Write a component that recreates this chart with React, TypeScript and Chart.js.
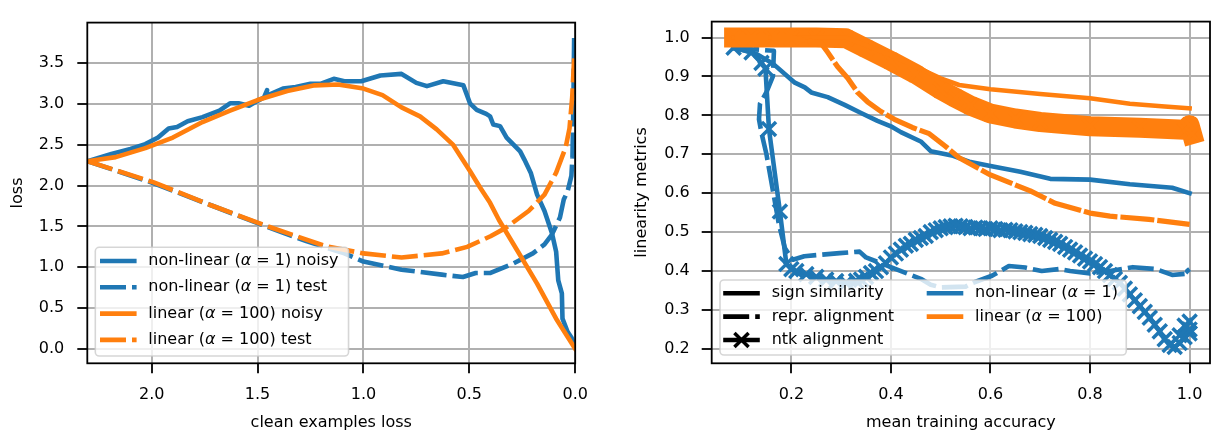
import React, { useEffect, useRef } from 'react';
import { Chart, registerables } from 'chart.js';

Chart.register(...registerables);

const BLUE = '#1f77b4';
const ORANGE = '#ff7f0e';
const FONT = '"DejaVu Sans", sans-serif';
const LW = 4.6;

// ---------------- Left panel data ----------------
const LEFT_X_TICKS = [0, 0.5, 1.0, 1.5, 2.0];
const LEFT_Y_TICKS = [0, 0.5, 1.0, 1.5, 2.0, 2.5, 3.0, 3.5];
const LEFT_X_TITLE = 'clean examples loss';
const LEFT_Y_TITLE = 'loss';
const LEFT_LEGEND = [
  'non-linear (α = 1) noisy',
  'non-linear (α = 1) test',
  'linear (α = 100) noisy',
  'linear (α = 100) test',
];

const nlNoisyX = [2.303, 2.19, 2.10, 2.03, 1.97, 1.92, 1.88, 1.83, 1.76, 1.68, 1.63, 1.59, 1.54, 1.50, 1.47, 1.455, 1.462, 1.45, 1.38, 1.32, 1.25, 1.20, 1.14, 1.09, 1.01, 0.92, 0.82, 0.75, 0.70, 0.623, 0.528, 0.497, 0.465, 0.42, 0.402, 0.387, 0.355, 0.324, 0.26, 0.24, 0.21, 0.18, 0.145, 0.11, 0.09, 0.08, 0.063, 0.06, 0.036, 0.018, 0.0];
const nlNoisyY = [2.30, 2.39, 2.45, 2.51, 2.59, 2.70, 2.72, 2.79, 2.84, 2.92, 3.01, 3.01, 2.98, 3.04, 3.08, 3.17, 3.09, 3.11, 3.19, 3.21, 3.25, 3.25, 3.31, 3.28, 3.28, 3.35, 3.37, 3.26, 3.22, 3.28, 3.23, 3.01, 2.93, 2.88, 2.85, 2.75, 2.73, 2.59, 2.42, 2.32, 2.16, 1.89, 1.69, 1.42, 1.19, 0.84, 0.68, 0.37, 0.21, 0.14, 0.02];

const nlTestX = [2.303, 1.99, 1.72, 1.50, 1.27, 1.09, 1.0, 0.82, 0.63, 0.53, 0.47, 0.40, 0.29, 0.20, 0.145, 0.11, 0.072, 0.054, 0.036, 0.018, 0.013, 0.009, 0.005];
const nlTestY = [2.30, 2.03, 1.76, 1.54, 1.32, 1.17, 1.07, 0.97, 0.91, 0.88, 0.93, 0.93, 1.05, 1.17, 1.28, 1.40, 1.61, 1.83, 1.93, 2.12, 2.35, 2.90, 3.81];

const linNoisyX = [2.303, 2.17, 2.03, 1.90, 1.76, 1.63, 1.50, 1.36, 1.23, 1.12, 1.0, 0.91, 0.82, 0.733, 0.654, 0.576, 0.497, 0.45, 0.402, 0.36, 0.27, 0.18, 0.09, 0.0];
const linNoisyY = [2.30, 2.35, 2.46, 2.59, 2.78, 2.92, 3.05, 3.16, 3.23, 3.24, 3.19, 3.11, 2.96, 2.85, 2.69, 2.50, 2.18, 1.98, 1.79, 1.58, 1.19, 0.80, 0.37, 0.0];

const linTestX = [2.303, 1.99, 1.72, 1.45, 1.18, 1.0, 0.82, 0.63, 0.51, 0.40, 0.33, 0.22, 0.145, 0.09, 0.045, 0.027, 0.014, 0.005];
const linTestY = [2.30, 2.04, 1.76, 1.50, 1.26, 1.17, 1.12, 1.17, 1.25, 1.38, 1.48, 1.69, 1.89, 2.16, 2.47, 2.70, 3.09, 3.56];

// ---------------- Right panel data ----------------
const RIGHT_X_TICKS = [0.2, 0.4, 0.6, 0.8, 1.0];
const RIGHT_Y_TICKS = [0.2, 0.3, 0.4, 0.5, 0.6, 0.7, 0.8, 0.9, 1.0];
const RIGHT_X_TITLE = 'mean training accuracy';
const RIGHT_Y_TITLE = 'linearity metrics';
const RIGHT_METRIC_LABELS = ['sign similarity', 'repr. alignment', 'ntk alignment'];
const RIGHT_MODEL_LABELS = ['non-linear (α = 1)', 'linear (α = 100)'];

const nlSignX = [0.084, 0.13, 0.163, 0.207, 0.227, 0.24, 0.273, 0.307, 0.34, 0.373, 0.40, 0.42, 0.46, 0.48, 0.525, 0.56, 0.60, 0.66, 0.72, 0.80, 0.88, 0.965, 1.0];
const nlSignY = [0.974, 0.958, 0.933, 0.884, 0.872, 0.859, 0.847, 0.827, 0.806, 0.786, 0.772, 0.757, 0.733, 0.708, 0.696, 0.68, 0.67, 0.655, 0.637, 0.635, 0.623, 0.614, 0.60];

const nlReprX = [0.083, 0.12, 0.165, 0.163, 0.15, 0.137, 0.135, 0.14, 0.15, 0.163, 0.175, 0.187, 0.203, 0.226, 0.25, 0.297, 0.337, 0.35, 0.38, 0.41, 0.44, 0.46, 0.48, 0.50, 0.55, 0.565, 0.603, 0.637, 0.67, 0.703, 0.737, 0.76, 0.80, 0.84, 0.886, 0.933, 0.965, 1.0, 0.995, 1.0];
const nlReprY = [0.972, 0.970, 0.966, 0.90, 0.86, 0.83, 0.79, 0.755, 0.70, 0.606, 0.52, 0.459, 0.429, 0.438, 0.441, 0.446, 0.45, 0.435, 0.42, 0.405, 0.39, 0.38, 0.365, 0.358, 0.36, 0.37, 0.388, 0.413, 0.409, 0.40, 0.405, 0.40, 0.394, 0.40, 0.41, 0.405, 0.39, 0.394, 0.40, 0.405];

const nlNtkX = [0.084, 0.12, 0.14, 0.148, 0.155, 0.177, 0.19, 0.20, 0.21, 0.23, 0.25, 0.27, 0.29, 0.31, 0.33, 0.34, 0.35, 0.36, 0.37, 0.38, 0.39, 0.40, 0.41, 0.42, 0.43, 0.44, 0.45, 0.46, 0.47, 0.48, 0.49, 0.50, 0.51, 0.52, 0.53, 0.54, 0.55, 0.56, 0.57, 0.58, 0.59, 0.60, 0.61, 0.62, 0.63, 0.64, 0.65, 0.66, 0.67, 0.68, 0.69, 0.70, 0.71, 0.72, 0.73, 0.74, 0.75, 0.76, 0.77, 0.78, 0.79, 0.80, 0.81, 0.82, 0.83, 0.84, 0.85, 0.86, 0.87, 0.88, 0.89, 0.90, 0.91, 0.92, 0.93, 0.94, 0.95, 0.96, 0.97, 0.98, 0.99, 1.0, 0.99, 1.0, 0.98, 1.0];
const nlNtkY = [0.974, 0.962, 0.935, 0.92, 0.765, 0.553, 0.418, 0.405, 0.40, 0.392, 0.385, 0.378, 0.374, 0.37, 0.375, 0.378, 0.385, 0.395, 0.40, 0.41, 0.42, 0.435, 0.445, 0.455, 0.465, 0.47, 0.48, 0.485, 0.49, 0.50, 0.505, 0.51, 0.513, 0.515, 0.516, 0.515, 0.513, 0.51, 0.512, 0.51, 0.508, 0.51, 0.508, 0.505, 0.506, 0.505, 0.502, 0.50, 0.498, 0.495, 0.493, 0.49, 0.485, 0.48, 0.475, 0.47, 0.462, 0.455, 0.448, 0.44, 0.432, 0.425, 0.418, 0.41, 0.40, 0.39, 0.38, 0.37, 0.355, 0.34, 0.325, 0.31, 0.295, 0.28, 0.262, 0.245, 0.225, 0.21, 0.205, 0.215, 0.23, 0.24, 0.26, 0.25, 0.235, 0.27];

const linSignX = [0.085, 0.20, 0.31, 0.35, 0.40, 0.45, 0.50, 0.537, 0.60, 0.70, 0.80, 0.88, 0.95, 1.0];
const linSignY = [1.0, 1.0, 1.0, 0.98, 0.955, 0.925, 0.895, 0.878, 0.867, 0.855, 0.844, 0.83, 0.823, 0.818];

const linReprX = [0.085, 0.20, 0.26, 0.273, 0.293, 0.313, 0.333, 0.353, 0.38, 0.407, 0.443, 0.477, 0.51, 0.537, 0.577, 0.60, 0.68, 0.73, 0.80, 0.84, 0.918, 1.0];
const linReprY = [1.0, 1.0, 0.985, 0.962, 0.925, 0.896, 0.859, 0.835, 0.81, 0.79, 0.769, 0.753, 0.72, 0.691, 0.663, 0.647, 0.606, 0.574, 0.549, 0.541, 0.533, 0.52];

const linNtkX = [0.085, 0.12, 0.16, 0.20, 0.25, 0.31, 0.35, 0.40, 0.45, 0.50, 0.53, 0.56, 0.60, 0.65, 0.70, 0.80, 0.90, 0.99, 1.0, 1.005];
const linNtkY = [1.0, 1.0, 1.0, 1.0, 1.0, 0.998, 0.972, 0.94, 0.906, 0.866, 0.845, 0.825, 0.805, 0.792, 0.783, 0.772, 0.768, 0.763, 0.775, 0.752];

// ---------------- helpers ----------------
const pts = (xs: number[], ys: number[]) => xs.map((x, i) => ({ x, y: ys[i] }));

function line(xs: number[], ys: number[], color: string, kind: 'solid' | 'dashed' | 'marker', order: number, width = LW, dash = [26, 6]) {
  return {
    data: pts(xs, ys),
    showLine: true,
    borderColor: color,
    backgroundColor: color,
    borderWidth: width,
    borderDash: kind === 'dashed' ? dash : [],
    borderCapStyle: kind === 'dashed' ? 'butt' : 'square',
    borderJoinStyle: 'round',
    pointRadius: kind === 'marker' ? 10 : 0,
    pointStyle: 'crossRot',
    pointBorderColor: color,
    pointBorderWidth: 3.5,
    pointHoverRadius: kind === 'marker' ? 10 : 0,
    order,
  };
}

function axis(o: { min: number; max: number; ticks: number[]; title: string; horizontal: boolean; size: number; pad: number; titlePad: number; reverse?: boolean }) {
  return {
    type: 'linear',
    min: o.min,
    max: o.max,
    reverse: !!o.reverse,
    afterBuildTicks: (s: any) => {
      s.ticks = o.ticks.map((v) => ({ value: v }));
    },
    afterFit: (s: any) => {
      if (o.horizontal) s.height = o.size;
      else s.width = o.size;
    },
    ticks: {
      callback: (v: any) => Number(v).toFixed(1),
      font: { family: FONT, size: 16 },
      color: '#000',
      padding: o.pad,
      autoSkip: false,
      maxRotation: 0,
    },
    grid: {
      color: '#b0b0b0',
      lineWidth: 2,
      tickColor: '#000',
      tickLength: 10,
      tickWidth: 1.8,
      drawTicks: true,
    },
    border: { display: false },
    title: {
      display: true,
      text: o.title,
      font: { family: FONT, size: 16 },
      color: '#000',
      padding: o.horizontal ? { top: 0, bottom: o.titlePad } : { top: o.titlePad, bottom: 0 },
    },
  };
}

function drawLabel(ctx: CanvasRenderingContext2D, text: string, x: number, y: number) {
  const parts = text.split('α');
  ctx.textBaseline = 'middle';
  ctx.textAlign = 'left';
  ctx.fillStyle = '#000';
  let cx = x;
  parts.forEach((p, i) => {
    if (i > 0) {
      ctx.font = `italic 16px ${FONT}`;
      ctx.fillText('α', cx, y);
      cx += ctx.measureText('α').width;
    }
    ctx.font = `16px ${FONT}`;
    ctx.fillText(p, cx, y);
    cx += ctx.measureText(p).width;
  });
  return cx - x;
}

function measureLabel(ctx: CanvasRenderingContext2D, text: string) {
  const parts = text.split('α');
  let w = 0;
  parts.forEach((p, i) => {
    if (i > 0) {
      ctx.font = `italic 16px ${FONT}`;
      w += ctx.measureText('α').width;
    }
    ctx.font = `16px ${FONT}`;
    w += ctx.measureText(p).width;
  });
  return w;
}

function drawCross(ctx: CanvasRenderingContext2D, x: number, y: number, r: number) {
  const d = r * Math.SQRT1_2;
  ctx.beginPath();
  ctx.moveTo(x - d, y - d);
  ctx.lineTo(x + d, y + d);
  ctx.moveTo(x + d, y - d);
  ctx.lineTo(x - d, y + d);
  ctx.stroke();
}

function drawHandle(ctx: CanvasRenderingContext2D, x0: number, x1: number, y: number, color: string, kind: string) {
  ctx.save();
  ctx.strokeStyle = color;
  ctx.lineWidth = LW;
  if (kind === 'dashed') {
    ctx.setLineDash([26, 6]);
    ctx.lineCap = 'butt';
    ctx.beginPath();
    ctx.moveTo(x0 - LW / 2, y);
    ctx.lineTo(x1 + LW / 2, y);
    ctx.stroke();
  } else {
    ctx.lineCap = 'square';
    ctx.beginPath();
    ctx.moveTo(x0, y);
    ctx.lineTo(x1, y);
    ctx.stroke();
  }
  if (kind === 'marker') {
    ctx.setLineDash([]);
    ctx.lineCap = 'butt';
    ctx.lineWidth = 3.5;
    drawCross(ctx, (x0 + x1) / 2, y, 10);
  }
  ctx.restore();
}

function drawBox(ctx: CanvasRenderingContext2D, x: number, y: number, w: number, h: number) {
  ctx.save();
  ctx.beginPath();
  if ((ctx as any).roundRect) (ctx as any).roundRect(x, y, w, h, 4);
  else ctx.rect(x, y, w, h);
  ctx.fillStyle = 'rgba(255,255,255,0.8)';
  ctx.fill();
  ctx.strokeStyle = 'rgba(204,204,204,0.8)';
  ctx.lineWidth = 1.6;
  ctx.stroke();
  ctx.restore();
}

function frame(ctx: CanvasRenderingContext2D, a: any) {
  ctx.save();
  ctx.strokeStyle = '#000';
  ctx.lineWidth = 1.8;
  ctx.strokeRect(a.left, a.top, a.right - a.left, a.bottom - a.top);
  ctx.restore();
}

const leftPlugin = {
  id: 'leftDeco',
  afterDatasetsDraw(chart: any) {
    const ctx: CanvasRenderingContext2D = chart.ctx;
    const a = chart.chartArea;
    frame(ctx, a);
    const bx = a.left + 8;
    const by = 247.3;
    const textX = bx + 53;
    let maxW = 0;
    LEFT_LEGEND.forEach((t) => (maxW = Math.max(maxW, measureLabel(ctx, t))));
    drawBox(ctx, bx, by, textX - bx + maxW + 10, 108.7);
    const styles: [string, string][] = [
      [BLUE, 'solid'],
      [BLUE, 'dashed'],
      [ORANGE, 'solid'],
      [ORANGE, 'dashed'],
    ];
    LEFT_LEGEND.forEach((t, i) => {
      const y = by + 13.7 + i * 26.3;
      drawHandle(ctx, bx + 7, bx + 39, y, styles[i][0], styles[i][1]);
      drawLabel(ctx, t, textX, y);
    });
  },
};

const rightPlugin = {
  id: 'rightDeco',
  afterDatasetsDraw(chart: any) {
    const ctx: CanvasRenderingContext2D = chart.ctx;
    const a = chart.chartArea;
    frame(ctx, a);
    const bx = a.left + 8.3;
    const by = 280;
    const col1H = bx + 5.5;
    const col1T = bx + 51.7;
    const col2H = bx + 209;
    const col2T = bx + 255;
    let maxW = 0;
    RIGHT_MODEL_LABELS.forEach((t) => (maxW = Math.max(maxW, measureLabel(ctx, t))));
    drawBox(ctx, bx, by, col2T - bx + maxW + 8.3, 75);
    const kinds = ['solid', 'dashed', 'marker'];
    RIGHT_METRIC_LABELS.forEach((t, i) => {
      const y = by + 13.3 + i * 23.35;
      drawHandle(ctx, col1H, col1H + 32, y, '#000', kinds[i]);
      drawLabel(ctx, t, col1T, y);
    });
    const cols = [BLUE, ORANGE];
    RIGHT_MODEL_LABELS.forEach((t, i) => {
      const y = by + 13.3 + i * 23.35;
      drawHandle(ctx, col2H, col2H + 32, y, cols[i], 'solid');
      drawLabel(ctx, t, col2T, y);
    });
  },
};

function leftConfig(): any {
  return {
    type: 'scatter',
    data: {
      datasets: [
        line(linTestX, linTestY, ORANGE, 'dashed', 0),
        line(linNoisyX, linNoisyY, ORANGE, 'solid', 1),
        line(nlTestX, nlTestY, BLUE, 'dashed', 2),
        line(nlNoisyX, nlNoisyY, BLUE, 'solid', 3),
      ],
    },
    options: {
      responsive: false,
      maintainAspectRatio: false,
      animation: false,
      devicePixelRatio: 1,
      events: [],
      layout: { padding: { left: 0, right: 31.8, top: 6, bottom: 0 }, autoPadding: false },
      plugins: { legend: { display: false }, tooltip: { enabled: false } },
      scales: {
        x: axis({ min: 0, max: 2.304, ticks: LEFT_X_TICKS, title: LEFT_X_TITLE, horizontal: true, size: 74.7, pad: 11.6, titlePad: 5.6, reverse: true }),
        y: axis({ min: -0.177, max: 3.999, ticks: LEFT_Y_TICKS, title: LEFT_Y_TITLE, horizontal: false, size: 87.3, pad: 13, titlePad: 7.9 }),
      },
    },
    plugins: [leftPlugin],
  };
}

function rightConfig(): any {
  return {
    type: 'scatter',
    data: {
      datasets: [
        line(linReprX, linReprY, ORANGE, 'dashed', 0, 5.2, [34, 3]),
        line(linSignX, linSignY, ORANGE, 'solid', 1),
        line(linNtkX, linNtkY, ORANGE, 'marker', 2, 20),
        line(nlNtkX, nlNtkY, BLUE, 'marker', 3),
        line(nlReprX, nlReprY, BLUE, 'dashed', 4),
        line(nlSignX, nlSignY, BLUE, 'solid', 5),
      ],
    },
    options: {
      responsive: false,
      maintainAspectRatio: false,
      animation: false,
      devicePixelRatio: 1,
      events: [],
      layout: { padding: { left: 0, right: 2, top: 6, bottom: 0 }, autoPadding: false },
      plugins: { legend: { display: false }, tooltip: { enabled: false } },
      scales: {
        x: axis({ min: 0.04, max: 1.041, ticks: RIGHT_X_TICKS, title: RIGHT_X_TITLE, horizontal: true, size: 74.7, pad: 11.6, titlePad: 5.6 }),
        y: axis({ min: 0.163, max: 1.041, ticks: RIGHT_Y_TICKS, title: RIGHT_Y_TITLE, horizontal: false, size: 104.7, pad: 12, titlePad: 25.5 }),
      },
    },
    plugins: [rightPlugin],
  };
}

export default function App() {
  const leftRef = useRef<HTMLCanvasElement>(null);
  const rightRef = useRef<HTMLCanvasElement>(null);

  useEffect(() => {
    const c1 = new Chart(leftRef.current as HTMLCanvasElement, leftConfig());
    const c2 = new Chart(rightRef.current as HTMLCanvasElement, rightConfig());
    return () => {
      c1.destroy();
      c2.destroy();
    };
  }, []);

  return (
    <div style={{ position: 'absolute', left: 0, top: 0, width: 1214, height: 438, background: '#fff' }}>
      <canvas ref={leftRef} width={607} height={438} style={{ position: 'absolute', left: 0, top: 0, width: 607, height: 438 }} />
      <canvas ref={rightRef} width={607} height={438} style={{ position: 'absolute', left: 607, top: 0, width: 607, height: 438 }} />
    </div>
  );
}
